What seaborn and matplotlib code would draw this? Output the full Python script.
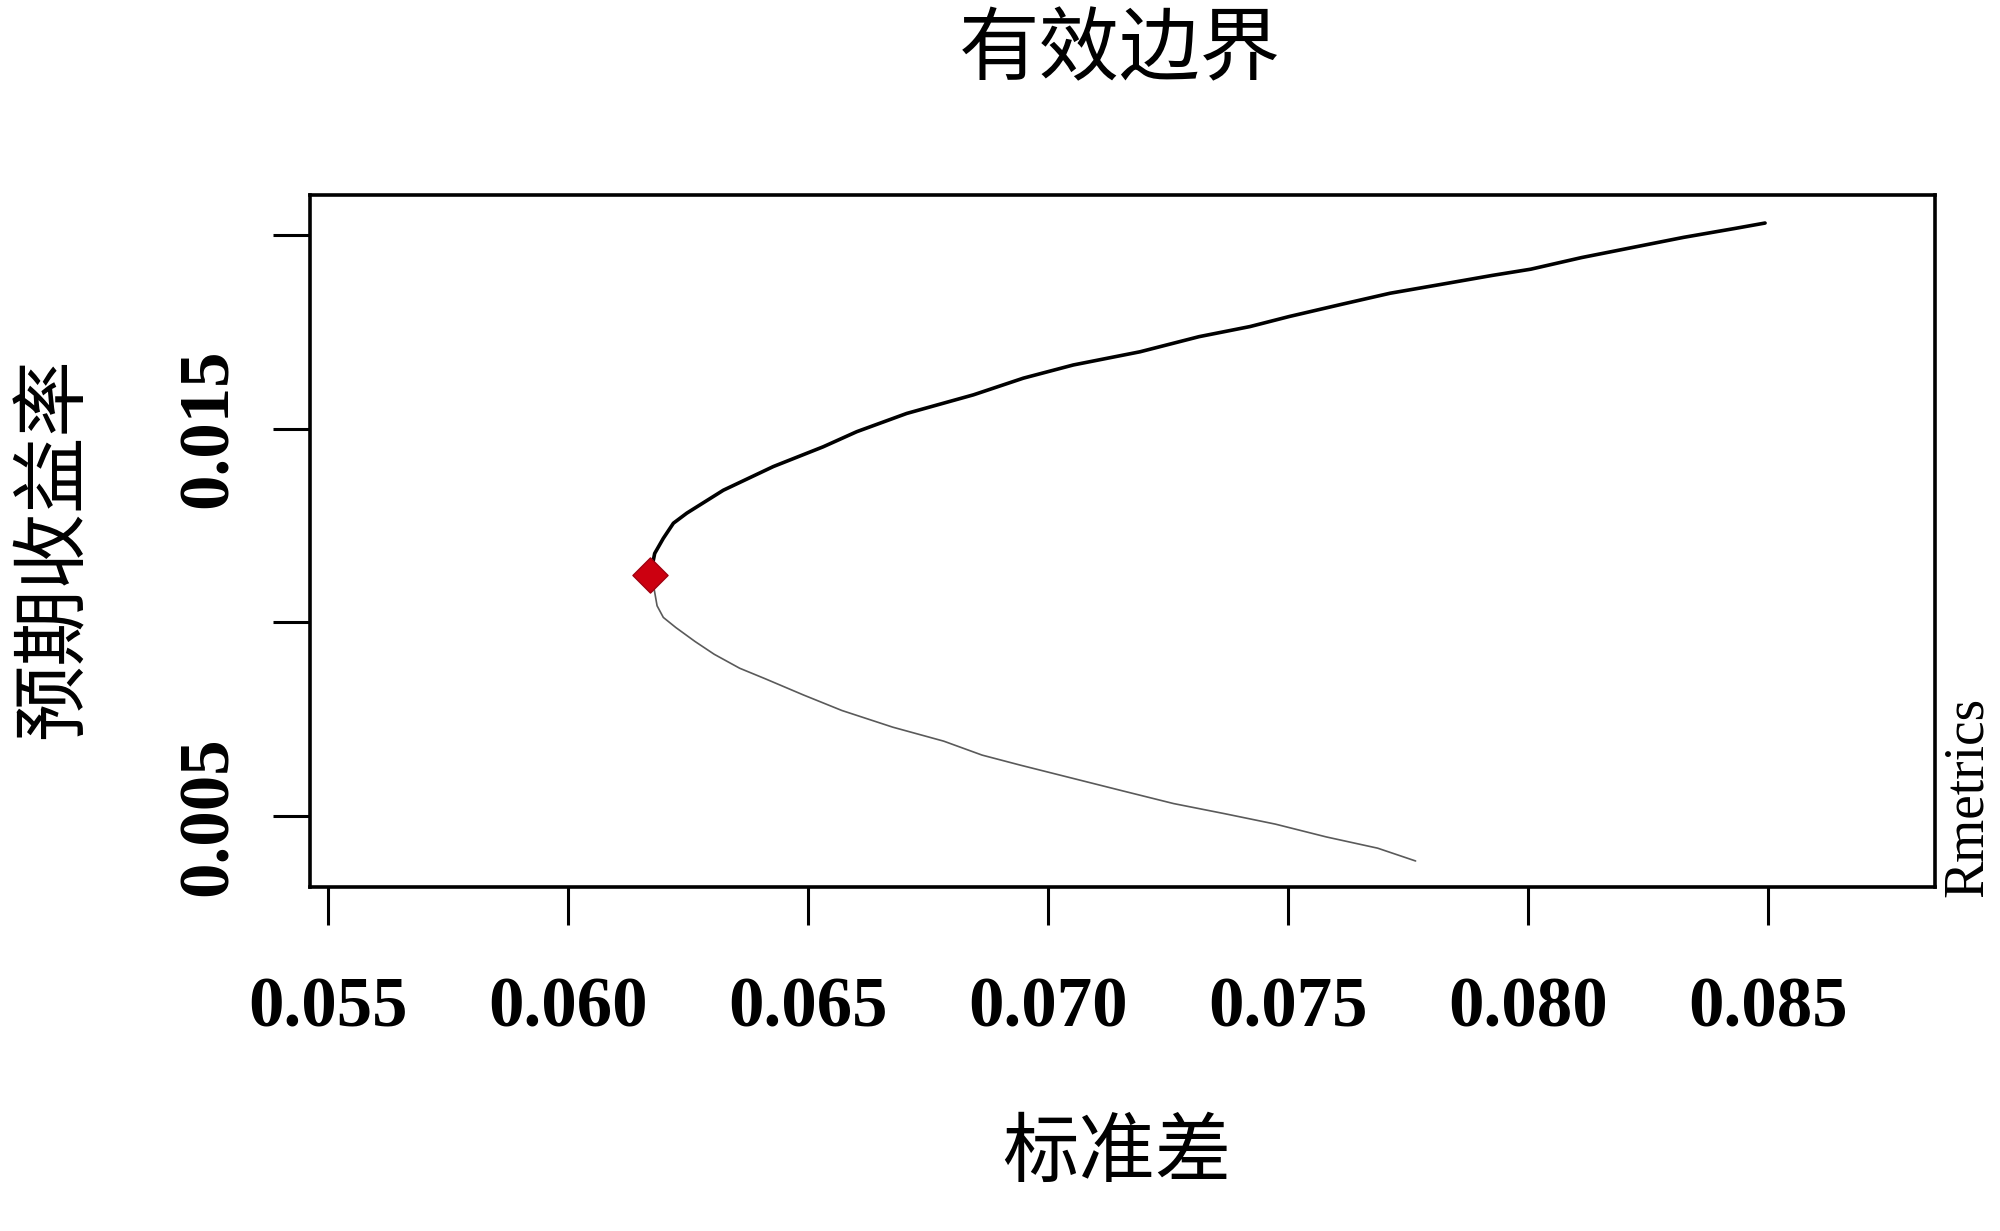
import numpy as np
import pandas as pd
import matplotlib
matplotlib.use("Agg")
import matplotlib.pyplot as plt
import seaborn as sns

# efficient frontier (standard deviation, expected return)
upper_sd = [0.06172, 0.06181, 0.06199, 0.06220, 0.06248, 0.06324, 0.06428, 0.06532,
            0.06602, 0.06706, 0.06845, 0.06949, 0.07053, 0.07192, 0.07315, 0.07421,
            0.07503, 0.07607, 0.07713, 0.07820, 0.07926, 0.08006, 0.08112, 0.08218,
            0.08324, 0.08431, 0.08494]
upper_ret = [0.01122, 0.01178, 0.01217, 0.01256, 0.01282, 0.01341, 0.01402, 0.01453,
             0.01492, 0.01539, 0.01587, 0.01630, 0.01664, 0.01698, 0.01737, 0.01763,
             0.01789, 0.01819, 0.01849, 0.01872, 0.01895, 0.01911, 0.01941, 0.01967,
             0.01993, 0.02016, 0.02030]
lower_sd = [0.06180, 0.06186, 0.06199, 0.06225, 0.06265, 0.06305, 0.06358, 0.06411,
            0.06491, 0.06571, 0.06677, 0.06783, 0.06863, 0.06943, 0.07049, 0.07155,
            0.07262, 0.07368, 0.07474, 0.07580, 0.07687, 0.07766]
lower_ret = [0.01085, 0.01043, 0.01013, 0.00987, 0.00951, 0.00918, 0.00882, 0.00855,
             0.00813, 0.00773, 0.00730, 0.00694, 0.00658, 0.00632, 0.00599, 0.00566,
             0.00533, 0.00507, 0.00480, 0.00447, 0.00418, 0.00385]
minvar_sd = [0.06172]
minvar_ret = [0.01122]

x_ticks = [0.055, 0.060, 0.065, 0.070, 0.075, 0.080, 0.085]
y_ticks = [0.005, 0.010, 0.015, 0.020]
y_labels = ["0.005", "", "0.015", ""]

sns.set_style("white")
plt.rcParams['font.family'] = ['Noto Sans CJK SC', 'DejaVu Sans']
plt.rcParams['text.color'] = 'black'

upper = pd.DataFrame({'sd': upper_sd, 'ret': upper_ret})
lower = pd.DataFrame({'sd': lower_sd, 'ret': lower_ret})
mv = pd.DataFrame({'sd': minvar_sd, 'ret': minvar_ret})

fig = plt.figure(figsize=(20, 12.31), dpi=100)
ax = fig.add_axes([0.155, 0.2798, 0.8125, 0.5617])

sns.lineplot(data=lower, x='sd', y='ret', sort=False, estimator=None,
             color='#5a5a5a', linewidth=1.2, ax=ax)
sns.lineplot(data=upper, x='sd', y='ret', sort=False, estimator=None,
             color='black', linewidth=2.6, ax=ax)
sns.scatterplot(data=mv, x='sd', y='ret', marker='D', s=320, color='#cc0010',
                edgecolor='#a00010', linewidth=1, ax=ax, zorder=5)

ax.set_xlim(0.05463, 0.08848)
ax.set_ylim(0.00319, 0.02102)

for s in ax.spines.values():
    s.set_visible(True)
    s.set_linewidth(2.6)
    s.set_color('black')

serif = dict(family='Liberation Serif', weight='bold', size=51, color='black')
ax.set_xticks(x_ticks)
ax.set_xticklabels(["%.3f" % v for v in x_ticks], fontdict=serif)
ax.set_yticks(y_ticks)
ax.set_yticklabels(y_labels, fontdict=serif, rotation=90, va='center')
ax.tick_params(axis='both', direction='out', length=27, width=2.2, color='black',
               bottom=True, left=True, top=False, right=False)
ax.tick_params(axis='x', pad=38)
ax.tick_params(axis='y', pad=22)
ax.set_xlabel('')
ax.set_ylabel('')

fig.text(0.56, 0.9586, '有效边界', ha='center', va='center', fontsize=58, color='black')
fig.text(0.5585, 0.0625, '标准差', ha='center', va='center', fontsize=55, color='black')
fig.text(0.027, 0.555, '预期收益率', ha='center', va='center', rotation=90, fontsize=55,
         color='black')
fig.text(0.984, 0.2713, 'Rmetrics', ha='center', va='bottom', rotation=90,
         family='Liberation Serif', fontsize=40, color='black')

fig.savefig('out.png', dpi=100, facecolor='white')
